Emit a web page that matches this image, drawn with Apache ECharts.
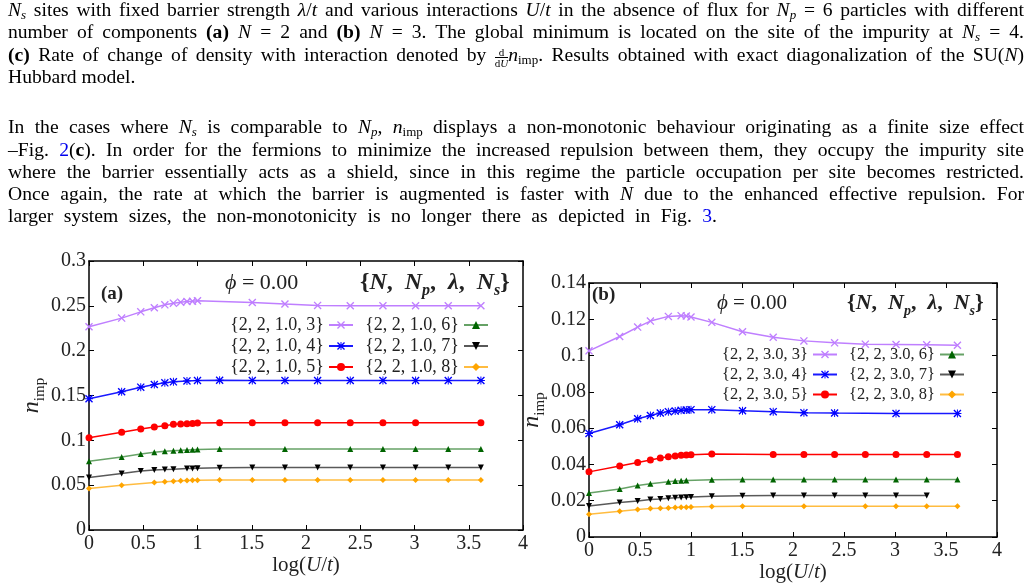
<!DOCTYPE html>
<html>
<head>
<meta charset="utf-8">
<script src="https://cdn.jsdelivr.net/npm/echarts@6/dist/echarts.min.js"></script>
<style>
  html, body { margin: 0; padding: 0; background: #fff; }
  #chart { position: absolute; left: 0; top: 0; width: 1029px; height: 584px; }
  .ln { position: absolute; left: 8px; width: 1016px; height: 22px; line-height: 22px;
        font-family: "Liberation Serif", "DejaVu Serif", serif; font-size: 19.6px; color: #000;
        text-align: justify; text-align-last: justify; z-index: 5; white-space: normal; }
  .ln i { font-style: italic; }
  .ln sub { font-size: 13px; vertical-align: -3px; line-height: 0; }
  .ln .ref { color: #0000ee; }
  .frac { display: inline-block; vertical-align: -6px; text-align: center; font-size: 11px; line-height: 10px; text-align-last: center; }
  .frac span { display: block; }
  .frac .den { border-top: 1px solid #000; }
</style>
</head>
<body>
<div id="chart"></div>

<div class="ln" style="top:-1px"><i>N</i><sub><i>s</i></sub> sites with fixed barrier strength <i>λ</i>/<i>t</i> and various interactions <i>U</i>/<i>t</i> in the absence of flux for <i>N</i><sub><i>p</i></sub> = 6 particles with different</div>
<div class="ln" style="top:21px">number of components <b>(a)</b> <i>N</i> = 2 and <b>(b)</b> <i>N</i> = 3. The global minimum is located on the site of the impurity at <i>N</i><sub><i>s</i></sub> = 4.</div>
<div class="ln" style="top:44px"><b>(c)</b> Rate of change of density with interaction denoted by <span class="frac"><span>d</span><span class="den">d<i>U</i></span></span><i>n</i><sub>imp</sub>. Results obtained with exact diagonalization of the SU(<i>N</i>)</div>
<div class="ln" style="top:66px; width:auto; text-align:left; text-align-last:left;">Hubbard model.</div>

<div class="ln" style="top:116px">In the cases where <i>N</i><sub><i>s</i></sub> is comparable to <i>N</i><sub><i>p</i></sub>, <i>n</i><sub>imp</sub> displays a non-monotonic behaviour originating as a finite size effect</div>
<div class="ln" style="top:139px">–Fig. <span class="ref">2</span>(<b>c</b>). In order for the fermions to minimize the increased repulsion between them, they occupy the impurity site</div>
<div class="ln" style="top:161px">where the barrier essentially acts as a shield, since in this regime the particle occupation per site becomes restricted.</div>
<div class="ln" style="top:183px">Once again, the rate at which the barrier is augmented is faster with <i>N</i> due to the enhanced effective repulsion. For</div>
<div class="ln" style="top:205px; width:709px;">larger system sizes, the non-monotonicity is no longer there as depicted in Fig. <span class="ref">3</span>.</div>

<script>
// ---------------- data ----------------
const xLogU = [0, 0.301, 0.477, 0.602, 0.699, 0.778, 0.845, 0.903, 0.954, 1.0, 1.204, 1.505, 1.806, 2.107, 2.408, 2.709, 3.010, 3.311, 3.612];

const namesA = ['{2, 2, 1.0, 3}', '{2, 2, 1.0, 4}', '{2, 2, 1.0, 5}', '{2, 2, 1.0, 6}', '{2, 2, 1.0, 7}', '{2, 2, 1.0, 8}'];
const namesB = ['{2, 2, 3.0, 3}', '{2, 2, 3.0, 4}', '{2, 2, 3.0, 5}', '{2, 2, 3.0, 6}', '{2, 2, 3.0, 7}', '{2, 2, 3.0, 8}'];

// panel (a): lambda/t = 1.0
const aNs3 = [0.2267, 0.2363, 0.2433, 0.2478, 0.2511, 0.2530, 0.2541, 0.2548, 0.2552, 0.2556, null, 0.2538, 0.2520, 0.2505, 0.2500, 0.2500, 0.2500, 0.2500, 0.2500];
const aNs4 = [0.1463, 0.1541, 0.1593, 0.1622, 0.1641, 0.1652, null, 0.1663, null, 0.1667, 0.1670, 0.1667, 0.1667, 0.1667, 0.1667, 0.1667, 0.1667, 0.1667, 0.1667];
const aNs5 = [0.1030, 0.1089, 0.1126, 0.1148, 0.1163, 0.1178, 0.1182, 0.1185, 0.1189, 0.1193, 0.1196, 0.1196, 0.1196, 0.1196, 0.1196, 0.1196, 0.1196, null, 0.1196];
const aNs6 = [0.0767, 0.0815, 0.0848, 0.0867, 0.0878, 0.0885, 0.0889, 0.0893, 0.0896, 0.0897, 0.0902, null, 0.0904, null, 0.0904, 0.0904, 0.0904, 0.0904, 0.0904];
const aNs7 = [0.0585, 0.0630, 0.0659, 0.0670, 0.0674, 0.0678, null, 0.0685, 0.0687, 0.0689, 0.0694, 0.0696, 0.0696, 0.0696, 0.0696, 0.0696, 0.0696, 0.0696, 0.0696];
const aNs8 = [0.0463, 0.0500, null, 0.0530, 0.0537, 0.0544, 0.0548, 0.0552, 0.0554, 0.0556, 0.0559, 0.0559, 0.0559, 0.0559, 0.0559, 0.0559, 0.0559, 0.0559, 0.0559];

// panel (b): lambda/t = 3.0
const bNs3 = [0.1026, 0.1105, 0.1157, 0.1190, null, 0.1216, null, 0.1220, 0.1218, 0.1213, 0.1183, 0.1131, 0.1101, 0.1081, 0.1070, 0.1063, 0.1061, 0.1059, 0.1057];
const bNs4 = [0.0571, 0.0619, 0.0652, 0.0670, 0.0683, 0.0691, 0.0694, 0.0698, 0.0700, 0.0702, 0.0702, 0.0696, 0.0691, 0.0685, 0.0683, null, 0.0681, null, 0.0681];
const bNs5 = [0.0359, 0.0391, 0.0411, 0.0425, 0.0435, 0.0442, 0.0446, 0.0450, 0.0452, 0.0453, 0.0457, null, 0.0455, 0.0455, 0.0455, 0.0455, 0.0455, 0.0455, 0.0455];
const bNs6 = [0.0243, 0.0265, 0.0284, 0.0293, null, 0.0304, 0.0308, 0.0310, 0.0312, null, 0.0315, 0.0317, 0.0317, 0.0317, 0.0317, 0.0317, 0.0317, 0.0317, 0.0317];
const bNs7 = [0.0171, 0.0190, 0.0199, 0.0207, 0.0210, 0.0214, 0.0216, 0.0218, 0.0219, 0.0221, 0.0225, 0.0228, 0.0229, 0.0229, 0.0229, 0.0229, 0.0229, 0.0229, null];
const bNs8 = [0.0125, 0.0142, 0.0151, 0.0157, 0.0159, 0.0160, 0.0162, 0.0164, 0.0164, 0.0166, 0.0168, 0.0170, null, 0.0170, null, 0.0170, 0.0170, 0.0170, 0.0170];

const xTicks = { min: 0, max: 4, interval: 0.5 };
const yTicksA = { min: 0, max: 0.3, interval: 0.05 };
const yTicksB = { min: 0, max: 0.14, interval: 0.02 };

// ---------------- styling ----------------
const FONT = '"Liberation Serif", "DejaVu Serif", serif';
const TXT = '#222';
const CROSS = 'path://M0,1.2 L1.2,0 L10,8.8 L8.8,10 Z M8.8,0 L10,1.2 L1.2,10 L0,8.8 Z';
const STAR = 'path://M0,1.2 L1.2,0 L10,8.8 L8.8,10 Z M8.8,0 L10,1.2 L1.2,10 L0,8.8 Z M4.4,0 L5.6,0 L5.6,10 L4.4,10 Z M0,4.4 L10,4.4 L10,5.6 L0,5.6 Z';

const styles = [
  { color: '#bf7fff', symbol: CROSS, size: 8, rot: 0, op: 1 },
  { color: '#0000ff', symbol: STAR, size: 8, rot: 0, op: 0.9 },
  { color: '#ff0000', symbol: 'circle', size: 7, rot: 0, op: 1 },
  { color: '#006400', symbol: 'triangle', size: 6, rot: 0, op: 0.6 },
  { color: '#000000', symbol: 'triangle', size: 6, rot: 180, op: 0.65 },
  { color: '#ffa500', symbol: 'diamond', size: 6, rot: 0, op: 0.75 }
];

function pairs(ys) {
  const out = [];
  ys.forEach((y, i) => { if (y !== null) out.push([xLogU[i], y]); });
  return out;
}

function mkSeries(names, sets, xi, yi) {
  return sets.map((ys, k) => ({
    type: 'line', name: names[k], xAxisIndex: xi, yAxisIndex: yi,
    data: pairs(ys), symbol: styles[k].symbol, symbolSize: styles[k].size,
    symbolRotate: styles[k].rot, showAllSymbol: true,
    lineStyle: { color: styles[k].color, width: 1.5, opacity: styles[k].op },
    itemStyle: { color: styles[k].color, borderWidth: 0 },
    emphasis: { disabled: true }, z: 3
  }));
}

const fmtY = v => String(+v.toFixed(2));
const axisLine = { show: true, onZero: false, lineStyle: { color: '#000', width: 1.5 } };
const tick = { show: true, inside: true, length: 5, lineStyle: { color: '#000', width: 1 } };
const lbl = { fontFamily: FONT, fontSize: 20, color: TXT };

function xAxes(grid, nameGap) {
  return [
    Object.assign({ gridIndex: grid, type: 'value', position: 'bottom', axisLine, axisTick: tick,
      axisLabel: Object.assign({ margin: 4, formatter: v => String(v) }, lbl), splitLine: { show: false },
      name: '{r|log(}{i|U}{r|/}{i|t}{r|)}', nameLocation: 'middle', nameGap: nameGap,
      nameTextStyle: { rich: { r: { fontFamily: FONT, fontSize: 21, color: TXT }, i: { fontFamily: FONT, fontSize: 21, fontStyle: 'italic', color: TXT } } }
    }, xTicks),
    Object.assign({ gridIndex: grid, type: 'value', position: 'top', axisLine, axisTick: tick,
      axisLabel: { show: false }, splitLine: { show: false } }, xTicks)
  ];
}
function yAxes(grid, ticks, nameGap) {
  return [
    Object.assign({ gridIndex: grid, type: 'value', position: 'left', axisLine, axisTick: tick,
      axisLabel: Object.assign({ margin: 3, formatter: fmtY }, lbl), splitLine: { show: false },
      name: '{i|n}{s|imp}', nameLocation: 'middle', nameGap: nameGap,
      nameTextStyle: { rich: {
        i: { fontFamily: FONT, fontSize: 24, fontStyle: 'italic', color: TXT, lineHeight: 30 },
        s: { fontFamily: FONT, fontSize: 15, color: TXT, lineHeight: 15, verticalAlign: 'bottom' } } }
    }, ticks),
    Object.assign({ gridIndex: grid, type: 'value', position: 'right', axisLine, axisTick: tick,
      axisLabel: { show: false }, splitLine: { show: false } }, ticks)
  ];
}

function legend(data, right, top, fs, gap) {
  return { data, orient: 'vertical', right, top, align: 'right', padding: 0, itemGap: gap,
    itemWidth: 24, itemHeight: 10, selectedMode: false,
    textStyle: { fontFamily: FONT, fontSize: fs, color: TXT, lineHeight: fs } };
}

function setText(x, y, fs) {
  const sp = '\u2002';
  return { type: 'text', x, y, z: 10, style: {
    text: '{{bi|N},' + sp + '{bi|N}{sub|p},' + sp + '{bi|λ},' + sp + '{bi|N}{sub|s}}',
    fontFamily: FONT, fontSize: fs, fontWeight: 'bold', fill: TXT, lineHeight: fs + 8, verticalAlign: 'middle',
    rich: {
      bi: { fontFamily: FONT, fontSize: fs, fontWeight: 'bold', fontStyle: 'italic', fill: TXT, lineHeight: fs + 8 },
      sub: { fontFamily: FONT, fontSize: Math.round(fs * 0.65), fontWeight: 'bold', fontStyle: 'italic', fill: TXT, lineHeight: Math.round(fs * 0.65), verticalAlign: 'bottom' }
    } } };
}
function phiText(x, y, fs) {
  return { type: 'text', x, y, z: 10, style: {
    text: '{i|ϕ} = 0.00', fontFamily: FONT, fontSize: fs, fill: TXT, verticalAlign: 'middle',
    rich: { i: { fontFamily: FONT, fontSize: fs, fontStyle: 'italic', fill: TXT } } } };
}
function tag(x, y, t) {
  return { type: 'text', x, y, z: 10, style: { text: t, fontFamily: FONT, fontSize: 19, fontWeight: 'bold', fill: TXT, verticalAlign: 'middle' } };
}

const chart = echarts.init(document.getElementById('chart'), null, { renderer: 'canvas' });
chart.setOption({
  animation: false,
  backgroundColor: '#fff',
  grid: [
    { left: 89, top: 261, width: 434, height: 269 },
    { left: 589, top: 283, width: 408, height: 254 }
  ],
  xAxis: [...xAxes(0, 24), ...xAxes(1, 19)],
  yAxis: [...yAxes(0, yTicksA, 40), ...yAxes(1, yTicksB, 38)],
  legend: [
    legend(namesA.slice(0, 3), 675, 316, 18, 3),
    legend(namesA.slice(3, 6), 540, 316, 18, 3),
    legend(namesB.slice(0, 3), 191, 346, 16.5, 3),
    legend(namesB.slice(3, 6), 64, 346, 16.5, 3)
  ],
  graphic: [
    tag(101, 294, '(a)'), tag(592, 295, '(b)'),
    phiText(225, 283, 22), phiText(717, 303, 21),
    setText(360, 283, 24), setText(847, 303, 22)
  ],
  series: [
    ...mkSeries(namesA, [aNs3, aNs4, aNs5, aNs6, aNs7, aNs8], 0, 0),
    ...mkSeries(namesB, [bNs3, bNs4, bNs5, bNs6, bNs7, bNs8], 2, 2)
  ]
});
</script>
</body>
</html>
